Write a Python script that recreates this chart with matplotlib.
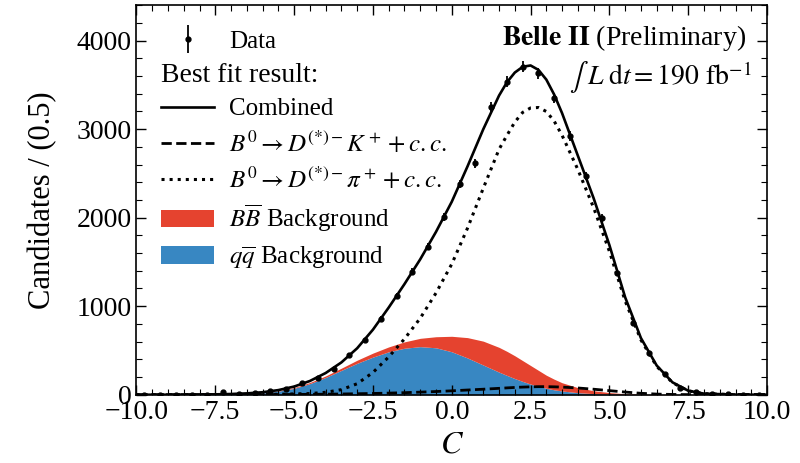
import numpy as np
import matplotlib
matplotlib.use("Agg")
import matplotlib.pyplot as plt
from matplotlib.lines import Line2D
from matplotlib.patches import Patch
from matplotlib.container import ErrorbarContainer
from matplotlib.legend_handler import HandlerErrorbar

plt.rcParams['font.family'] = ['Liberation Serif', 'DejaVu Serif']
plt.rcParams['mathtext.fontset'] = 'stix'

# data points (bin width 0.5)
bin_centers = [-9.75, -9.25, -8.75, -8.25, -7.75, -7.25, -6.75, -6.25, -5.75, -5.25,
               -4.75, -4.25, -3.75, -3.25, -2.75, -2.25, -1.75, -1.25, -0.75, -0.25,
               0.25, 0.75, 1.25, 1.75, 2.25, 2.75, 3.25, 3.75, 4.25, 4.75,
               5.25, 5.75, 6.25, 6.75, 7.25, 7.75, 8.25, 8.75, 9.25, 9.75]
counts = [0, 1, 0, 2, 1, 30, 10, 18, 40, 70,
          136, 190, 295, 449, 619, 860, 1115, 1390, 1672, 2011,
          2380, 2615, 3254, 3537, 3706, 3631, 3349, 2923, 2471, 1993,
          1379, 814, 468, 230, 80, 25, 8, 3, 1, 0]

# fit curves
curve_x = [-10, -9, -8, -7.5, -7, -6.5, -6, -5.5, -5, -4.5, -4, -3.5, -3, -2.5, -2, -1.5,
           -1, -0.5, 0, 0.5, 1, 1.5, 1.75, 2, 2.25, 2.5, 2.75, 3, 3.25, 3.5,
           4, 4.5, 5, 5.5, 6, 6.5, 7, 7.5, 8, 9, 10]
combined = [0, 0, 2, 4, 8, 15, 28, 52, 92, 155, 245, 365, 525, 735, 985, 1250,
            1530, 1840, 2180, 2580, 3000, 3380, 3530, 3640, 3705, 3720, 3670, 3560, 3390, 3180,
            2700, 2220, 1690, 1100, 640, 330, 140, 45, 12, 1, 0]
bkg_total = [0, 0, 1, 3, 6, 12, 22, 45, 80, 138, 212, 300, 390, 470, 540, 597,
             637, 655, 660, 645, 605, 535, 490, 440, 385, 330, 275, 220, 175, 135,
             80, 45, 24, 11, 5, 2, 1, 0, 0, 0, 0]
qq_bkg = [0, 0, 1, 3, 6, 11, 20, 40, 72, 125, 195, 275, 355, 425, 485, 525,
          543, 530, 485, 415, 335, 255, 218, 182, 150, 120, 95, 73, 55, 42,
          23, 12, 6, 3, 1, 0, 0, 0, 0, 0, 0]
sig_k = [0, 0, 0, 0, 0, 1, 1, 2, 3, 4, 6, 8, 11, 14, 18, 23,
         29, 36, 44, 53, 62, 72, 77, 82, 86, 89, 91, 91, 89, 86,
         76, 62, 46, 30, 16, 7, 3, 1, 0, 0, 0]
sig_pi = [0, 0, 0, 1, 2, 2, 5, 5, 9, 13, 27, 57, 124, 251, 427, 630,
          864, 1149, 1476, 1882, 2333, 2773, 2930, 3080, 3190, 3240, 3245, 3200, 3090, 2930,
          2544, 2113, 1620, 1059, 619, 321, 136, 44, 12, 1, 0]

red = '#E5432F'
blue = '#3887C2'

fig = plt.figure(figsize=(8, 4.63), dpi=100)
ax = fig.add_axes([0.1706, 0.1475, 0.7882, 0.8411])

ax.fill_between(curve_x, 0, qq_bkg, color=blue, lw=0, zorder=1)
ax.fill_between(curve_x, qq_bkg, bkg_total, color=red, lw=0, zorder=1)
ax.plot(curve_x, sig_k, color='black', ls='--', lw=2, zorder=2)
ax.plot(curve_x, sig_pi, color='black', ls=':', lw=2.2, zorder=2)
ax.plot(curve_x, combined, color='black', ls='-', lw=1.9, zorder=3)

err = np.sqrt(np.array(counts, dtype=float))
data_h = ax.errorbar(bin_centers, counts, yerr=err, fmt='o', color='black',
                     ms=3.5, elinewidth=1.3, capsize=0, zorder=4)

ax.set_xlim(-10, 10)
ax.set_ylim(0, 4400)
ax.set_xticks(np.arange(-10, 10.1, 2.5))
ax.set_yticks([0, 1000, 2000, 3000, 4000])
ax.minorticks_on()
ax.xaxis.set_minor_locator(matplotlib.ticker.MultipleLocator(0.5))
ax.yaxis.set_minor_locator(matplotlib.ticker.MultipleLocator(200))
ax.tick_params(which='both', direction='in', top=True, right=True, labelsize=20)
ax.tick_params(which='major', length=7, width=1)
ax.tick_params(which='minor', length=4, width=0.8)
for s in ax.spines.values():
    s.set_linewidth(1.2)

ax.set_xlabel(r'$C$', fontsize=23, labelpad=4)
ax.set_ylabel('Candidates / (0.5)', fontsize=22, labelpad=14)

handles = [
    data_h,
    Line2D([], [], color='none'),
    Line2D([], [], color='black', ls='-', lw=1.9),
    Line2D([], [], color='black', ls='--', lw=2),
    Line2D([], [], color='black', ls=':', lw=2.2),
    Patch(facecolor=red, edgecolor='none'),
    Patch(facecolor=blue, edgecolor='none'),
]
labels = [
    'Data',
    'Best fit result:',
    'Combined',
    r'$B^0 \rightarrow D^{(*)-}K^+ + c.c.$',
    r'$B^0 \rightarrow D^{(*)-}\pi^+ + c.c.$',
    r'$B\overline{B}$ Background',
    r'$q\overline{q}$ Background',
]
leg_fs = 18
leg = ax.legend(handles, labels, loc='upper left', frameon=False, fontsize=leg_fs,
                handlelength=2.1, handletextpad=0.6, labelspacing=0.4,
                borderaxespad=0.6, bbox_to_anchor=(0.0, 1.0),
                handler_map={ErrorbarContainer: HandlerErrorbar(yerr_size=0.55)})
fs_px = leg_fs * 100 / 72
shift = (2.1 + 0.6) * fs_px
bf = leg.get_texts()[1]
bf.set_fontsize(20)
bf.set_x(-shift)

ax.text(0.967, 0.915, r'$\mathbf{Belle\ II}$ (Preliminary)', transform=ax.transAxes,
        ha='right', va='center', fontsize=20)
ax.text(0.975, 0.815, r'$\int\;L\;\mathrm{d}t = 190\ \mathrm{fb}^{-1}$', transform=ax.transAxes,
        ha='right', va='center', fontsize=20)

fig.savefig('out.png', dpi=100)
